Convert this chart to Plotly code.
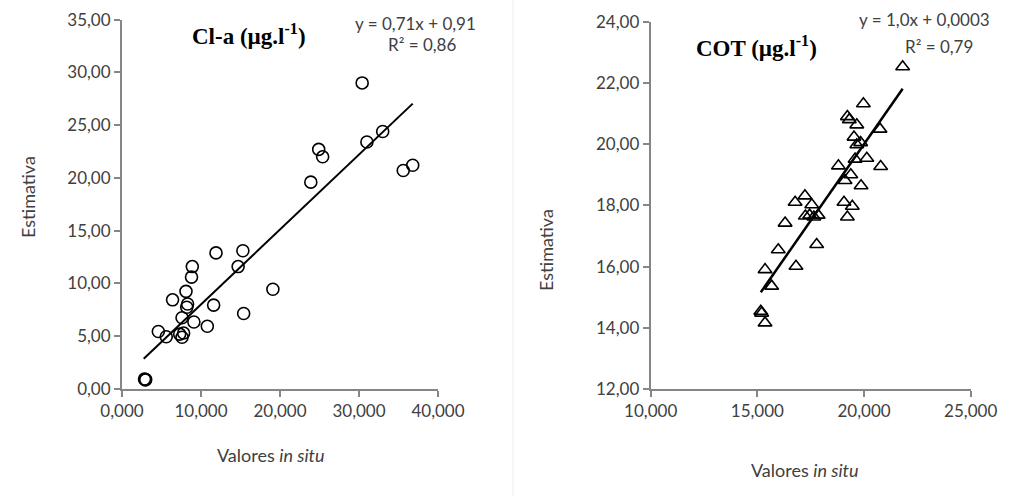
import plotly.graph_objects as go

# ---- data ----
cla_x = [30.4, 31.0, 33.0, 24.9, 25.4, 23.9, 35.6, 36.8,
         11.9, 15.3, 14.7, 8.9, 8.8, 8.1, 6.4, 8.3, 8.2, 11.6, 19.1, 15.4,
         7.6, 9.1, 10.8, 4.6, 5.6, 7.3, 7.6, 7.8, 2.85, 2.95, 3.0]
cla_y = [29.0, 23.4, 24.4, 22.7, 22.0, 19.6, 20.7, 21.2,
         12.9, 13.1, 11.6, 11.6, 10.6, 9.25, 8.45, 8.05, 7.75, 7.95, 9.45, 7.15,
         6.75, 6.35, 5.95, 5.45, 4.95, 5.2, 4.9, 5.3, 0.95, 0.85, 0.9]

cot_x = [21.81, 19.97, 19.22, 19.31, 19.66, 20.75, 19.53, 19.84, 19.66, 20.13,
         19.58, 20.78, 18.8, 19.38, 19.11, 19.86, 19.06, 19.45, 19.22,
         16.77, 17.23, 17.55, 17.25, 17.45, 17.65, 17.85, 16.3, 17.78, 15.98,
         16.81, 15.36, 15.67, 15.16, 15.2, 15.36]
cot_y = [22.53, 21.32, 20.9, 20.8, 20.63, 20.49, 20.23, 20.05, 19.98, 19.54,
         19.51, 19.27, 19.29, 19.0, 18.81, 18.64, 18.1, 17.97, 17.62,
         18.1, 18.31, 18.02, 17.65, 17.68, 17.62, 17.68, 17.42, 16.72, 16.55,
         16.01, 15.9, 15.36, 14.54, 14.48, 14.16]

cla_slope, cla_intercept = 0.71, 0.91
cot_slope, cot_intercept = 1.0, 0.0003

cla_xticks = [0, 10, 20, 30, 40]
cla_yticks = [0, 5, 10, 15, 20, 25, 30, 35]
cot_xticks = [10, 15, 20, 25]
cot_yticks = [12, 14, 16, 18, 20, 22, 24]

cla_title = "<b>Cl-a (µg.l<sup>-1</sup>)</b>"
cot_title = "<b>COT (µg.l<sup>-1</sup>)</b>"
cla_eq = ["y = 0,71x + 0,91", "R² = 0,86"]
cot_eq = ["y = 1,0x + 0,0003", "R² = 0,79"]
x_title = "Valores <i>in situ</i>"
y_title = "Estimativa"

# ---- layout geometry ----
W, H = 1019, 496
def px(x):
    return x / W
def py(y):
    return 1 - y / H

SANS = "Lato, Open Sans, sans-serif"
SERIF = "Liberation Serif, Times New Roman, serif"
AX = "#868686"
TXT = "#404040"

fig = go.Figure()

# left panel
fig.add_trace(go.Scatter(x=cla_x, y=cla_y, mode="markers",
                         marker=dict(symbol="circle-open", size=12, color="black",
                                     line=dict(width=1.6, color="black")),
                         xaxis="x", yaxis="y", showlegend=False))
lx = [min(cla_x) - 0.1, max(cla_x)]
fig.add_trace(go.Scatter(x=lx, y=[cla_slope * v + cla_intercept for v in lx], mode="lines",
                         line=dict(color="black", width=2), xaxis="x", yaxis="y",
                         showlegend=False))

# right panel
fig.add_trace(go.Scatter(x=cot_x, y=cot_y, mode="markers",
                         marker=dict(symbol="triangle-up-open", size=12, color="black",
                                     line=dict(width=1.6, color="black")),
                         xaxis="x2", yaxis="y2", showlegend=False))
rx = [min(cot_x), max(cot_x)]
fig.add_trace(go.Scatter(x=rx, y=[cot_slope * v + cot_intercept for v in rx], mode="lines",
                         line=dict(color="black", width=2.5), xaxis="x2", yaxis="y2",
                         showlegend=False))

axis_common = dict(showline=True, linecolor=AX, linewidth=2, ticks="outside",
                   ticklen=6, tickwidth=2, tickcolor=AX, showgrid=False, zeroline=False,
                   automargin=False,
                   tickfont=dict(family=SANS, size=17, color=TXT))

fig.update_layout(
    width=W, height=H,
    margin=dict(l=0, r=0, t=0, b=0, autoexpand=False),
    paper_bgcolor="white", plot_bgcolor="white",
    separators=",.",
    xaxis=dict(domain=[px(122), px(438)], range=[0, 40], tickvals=cla_xticks,
               tickformat=".3f", anchor="y", **axis_common),
    yaxis=dict(domain=[py(389), py(19.6)], range=[0, 35], tickvals=cla_yticks,
               tickformat=".2f", anchor="x", **axis_common),
    xaxis2=dict(domain=[px(650.7), px(970.7)], range=[10, 25], tickvals=cot_xticks,
                tickformat=".3f", anchor="y2", **axis_common),
    yaxis2=dict(domain=[py(389), py(21.7)], range=[12, 24], tickvals=cot_yticks,
                tickformat=".2f", anchor="x2", **axis_common),
)

def ann(text, x, y, size, family, color=TXT, angle=0):
    fig.add_annotation(text=text, x=px(x), y=py(y), xref="paper", yref="paper",
                       showarrow=False, xanchor="center", yanchor="middle",
                       textangle=angle, font=dict(family=family, size=size, color=color))

ann(cla_title, 249, 34, 23, SERIF, color="black")
ann(cot_title, 756, 46, 23, SERIF, color="black")
ann(cla_eq[0], 415, 23, 17, SANS)
ann(cla_eq[1], 422, 45, 17, SANS)
ann(cot_eq[0], 924, 19, 17, SANS)
ann(cot_eq[1], 939, 46, 17, SANS)
ann(x_title, 271, 455, 18, SANS)
ann(x_title, 805, 470, 18, SANS)
ann(y_title, 28, 197, 18, SANS, angle=-90)
ann(y_title, 546, 250, 18, SANS, angle=-90)

fig.add_shape(type="line", xref="paper", yref="paper", x0=px(513), x1=px(513), y0=0, y1=1,
              line=dict(color="#ececec", width=1))

fig.write_html("out.html")
